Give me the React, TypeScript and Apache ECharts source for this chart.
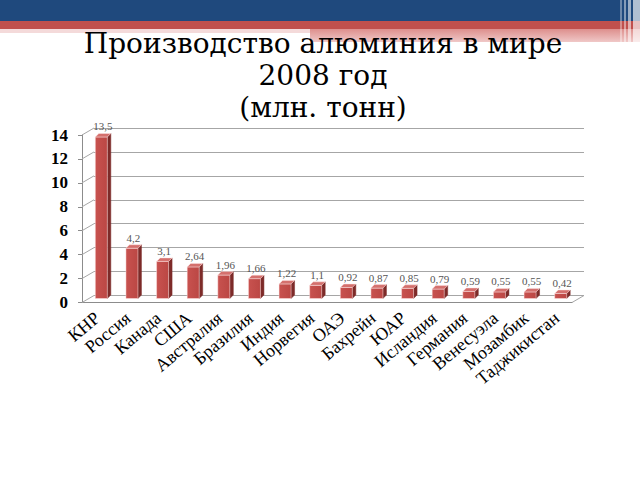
import { useEffect, useRef } from "react";
import * as echarts from "echarts";

const countries = [
  "КНР",
  "Россия",
  "Канада",
  "США",
  "Австралия",
  "Бразилия",
  "Индия",
  "Норвегия",
  "ОАЭ",
  "Бахрейн",
  "ЮАР",
  "Исландия",
  "Германия",
  "Венесуэла",
  "Мозамбик",
  "Таджикистан"
];

const production = [13.5, 4.2, 3.1, 2.64, 1.96, 1.66, 1.22, 1.1, 0.92, 0.87, 0.85, 0.79, 0.59, 0.55, 0.55, 0.42];

const yTicks = [0, 2, 4, 6, 8, 10, 12, 14];

const titleLines = ["Производство алюминия в мире", "2008 год", "(млн. тонн)"];

// depth of the 3D box (walls) and of one bar
const WALL_DX = 12;
const WALL_DY = -7;
const BAR_W = 12;
const BAR_DX = 3.5;
const BAR_DY = -3.5;

const serif = "Liberation Serif";

export default function App() {
  const ref = useRef<HTMLDivElement | null>(null);

  useEffect(() => {
    if (!ref.current) {
      return;
    }

    const chart = echarts.init(ref.current, null, { renderer: "svg" });

    chart.setOption({
      animation: false,
      backgroundColor: "#ffffff",
      title: {
        text: titleLines.join("\n"),
        left: 318,
        top: 22,
        textAlign: "center",
        textStyle: {
          color: "#000000",
          fontFamily: "DejaVu Serif",
          fontSize: 28,
          fontWeight: "normal",
          lineHeight: 32
        }
      },
      graphic: [
        { type: "rect", z: -10, shape: { x: 0, y: 0, width: 640, height: 21 }, style: { fill: "#1f497d" } },
        { type: "rect", z: -10, shape: { x: 0, y: 21, width: 640, height: 8 }, style: { fill: "#c0504d" } },
        { type: "rect", z: -10, shape: { x: 0, y: 29, width: 310, height: 4 }, style: { fill: "#f4dada" } },
        {
          type: "rect",
          z: -10,
          shape: { x: 310, y: 29, width: 330, height: 13 },
          style: {
            fill: {
              type: "linear",
              x: 0,
              y: 0,
              x2: 0,
              y2: 1,
              colorStops: [
                { offset: 0, color: "#dd8f8d" },
                { offset: 1, color: "#f0c8c7" }
              ]
            }
          }
        },
        { type: "rect", z: -9, shape: { x: 620, y: 0, width: 2, height: 42 }, style: { fill: "rgba(255,255,255,0.35)" } },
        { type: "rect", z: -9, shape: { x: 624, y: 0, width: 2, height: 42 }, style: { fill: "rgba(255,255,255,0.45)" } },
        { type: "rect", z: -9, shape: { x: 628, y: 0, width: 3, height: 42 }, style: { fill: "rgba(255,255,255,0.55)" } },
        { type: "rect", z: -9, shape: { x: 633, y: 0, width: 7, height: 42 }, style: { fill: "rgba(255,255,255,0.65)" } }
      ],
      grid: [
        { left: 82, right: 68, top: 135, bottom: 177.5 },
        { left: 82 + WALL_DX, right: 68 - WALL_DX, top: 135 + WALL_DY, bottom: 177.5 - WALL_DY }
      ],
      xAxis: [
        {
          type: "category",
          gridIndex: 0,
          data: countries,
          axisLine: { lineStyle: { color: "#8c8c8c" } },
          axisTick: { length: 5, lineStyle: { color: "#8c8c8c" } },
          axisLabel: {
            rotate: 40,
            margin: 13,
            interval: 0,
            color: "#000000",
            fontFamily: serif,
            fontSize: 18
          }
        },
        {
          type: "category",
          gridIndex: 1,
          data: countries,
          show: false
        }
      ],
      yAxis: [
        {
          type: "value",
          gridIndex: 0,
          min: 0,
          max: 14,
          interval: 2,
          axisLine: { show: true, lineStyle: { color: "#8c8c8c" } },
          axisTick: { show: true, length: 4, lineStyle: { color: "#8c8c8c" } },
          splitLine: { show: false },
          axisLabel: {
            margin: 14,
            color: "#000000",
            fontFamily: serif,
            fontSize: 17,
            fontWeight: "bold"
          }
        },
        {
          type: "value",
          gridIndex: 1,
          min: 0,
          max: 14,
          interval: 2,
          axisLine: { show: false },
          axisTick: { show: false },
          axisLabel: { show: false },
          splitLine: { lineStyle: { color: "#a6a6a6", width: 1 } }
        }
      ],
      series: [
        {
          // side-wall and floor edges of the 3D box
          type: "custom",
          xAxisIndex: 0,
          yAxisIndex: 0,
          silent: true,
          z: 1,
          data: yTicks.map((v) => [0, v]),
          renderItem: (params: any, api: any) => {
            const cs = params.coordSys;
            const v = api.value(1);
            const y = api.coord([0, v])[1];
            const children: any[] = [
              {
                type: "line",
                shape: { x1: cs.x, y1: y, x2: cs.x + WALL_DX, y2: y + WALL_DY },
                style: { stroke: "#a6a6a6", lineWidth: 1 }
              }
            ];
            if (v === 0) {
              const xr = cs.x + cs.width;
              children.push({
                type: "line",
                shape: { x1: xr, y1: y, x2: xr + WALL_DX, y2: y + WALL_DY },
                style: { stroke: "#a6a6a6", lineWidth: 1 }
              });
            }
            return { type: "group", children };
          }
        },
        {
          // 3D columns with their value labels
          type: "custom",
          xAxisIndex: 0,
          yAxisIndex: 0,
          z: 3,
          data: production.map((v, i) => [i, v]),
          renderItem: (params: any, api: any) => {
            const i = api.value(0);
            const v = api.value(1);
            const base = api.coord([i, 0]);
            const top = api.coord([i, v]);
            const cx = base[0] + 4;
            const yb = base[1] - 4;
            const yt = top[1] - 4;
            const xl = cx - BAR_W / 2;
            const xr = cx + BAR_W / 2;
            const edge = "rgba(255,230,230,0.6)";
            return {
              type: "group",
              children: [
                {
                  type: "polygon",
                  shape: {
                    points: [
                      [xr, yt],
                      [xr + BAR_DX, yt + BAR_DY],
                      [xr + BAR_DX, yb + BAR_DY],
                      [xr, yb]
                    ]
                  },
                  style: { fill: "#7d2b29", stroke: "#7d2b29", lineWidth: 0.5 }
                },
                {
                  type: "rect",
                  shape: { x: xl, y: yt, width: BAR_W, height: yb - yt },
                  style: {
                    fill: {
                      type: "linear",
                      x: 0,
                      y: 0,
                      x2: 1,
                      y2: 0,
                      colorStops: [
                        { offset: 0, color: "#c8524f" },
                        { offset: 1, color: "#bb4744" }
                      ]
                    },
                    stroke: edge,
                    lineWidth: 0.8
                  }
                },
                {
                  type: "polygon",
                  shape: {
                    points: [
                      [xl, yt],
                      [xl + BAR_DX, yt + BAR_DY],
                      [xr + BAR_DX, yt + BAR_DY],
                      [xr, yt]
                    ]
                  },
                  style: { fill: "#d4706d", stroke: edge, lineWidth: 0.8 }
                },
                {
                  type: "text",
                  style: {
                    x: cx + 1.5,
                    y: yt + BAR_DY - 1.5,
                    text: String(v).replace(".", ","),
                    align: "center",
                    verticalAlign: "bottom",
                    fill: "#555555",
                    fontFamily: serif,
                    fontSize: 11
                  }
                }
              ]
            };
          }
        }
      ]
    });

    return () => {
      chart.dispose();
    };
  }, []);

  return <div ref={ref} style={{ position: "absolute", left: 0, top: 0, width: 640, height: 480 }} />;
}
